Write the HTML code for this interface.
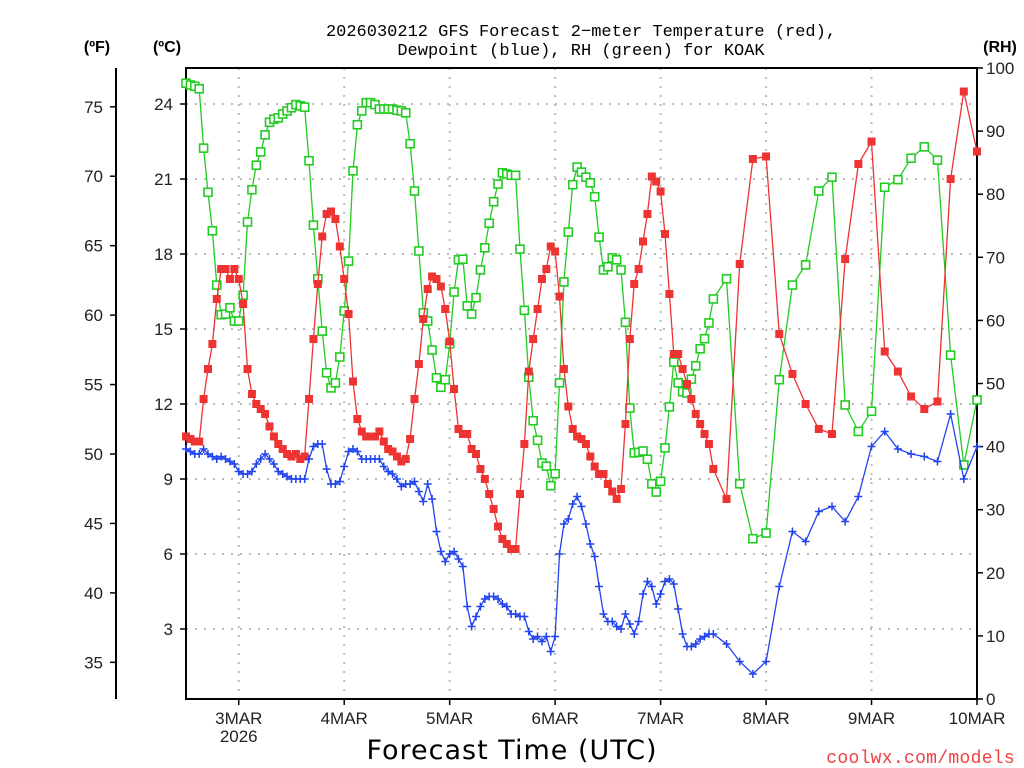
<!DOCTYPE html>
<html><head><meta charset="utf-8"><style>
body{margin:0;background:#fff}
svg{display:block}
text{font-family:"Liberation Sans",sans-serif}
</style></head><body>
<svg id="chart" width="1024" height="768" xmlns="http://www.w3.org/2000/svg">
<g font-family="Liberation Mono, monospace" font-size="17" fill="#000" text-anchor="middle">
<text x="581" y="36" style="font-family:'Liberation Mono',monospace">2026030212 GFS Forecast 2−meter Temperature (red),</text>
<text x="581" y="55" style="font-family:'Liberation Mono',monospace">Dewpoint (blue), RH (green) for KOAK</text>
</g>
<text x="97" y="52" font-size="16" font-weight="bold" text-anchor="middle">(ºF)</text>
<text x="167" y="52" font-size="16" font-weight="bold" text-anchor="middle">(ºC)</text>
<text x="1000" y="52" font-size="16" font-weight="bold" text-anchor="middle">(RH)</text>
<g id="grid"></g><g id="axes"></g><g id="series"></g>
<text x="512" y="759" font-size="27" text-anchor="middle" style="font-family:'DejaVu Sans',sans-serif" letter-spacing="1">Forecast Time (UTC)</text>
<text x="1015" y="763" font-size="18" fill="#f04040" text-anchor="end" style="font-family:'Liberation Mono',monospace" letter-spacing="0.3">coolwx.com/models</text>
</svg>
<script>
const tempHourly=[10.7,10.6,10.5,10.5,12.2,13.4,14.4,16.2,17.4,17.4,
17.0,17.4,17.0,16.0,13.4,12.4,12.0,11.8,11.6,11.1,
10.7,10.4,10.2,10.0,9.9,10.0,9.8,9.9,12.2,14.6,
16.8,18.7,19.6,19.7,19.4,18.3,17.0,15.6,12.9,11.4,
10.9,10.7,10.7,10.7,10.9,10.5,10.2,10.1,9.9,9.7,
9.8,10.6,12.2,13.6,15.4,16.6,17.1,17.0,16.7,15.8,
14.5,12.6,11.0,10.8,10.8,10.2,10.0,9.4,9.0,8.4,
7.8,7.1,6.6,6.4,6.2,6.2,8.4,10.4,13.3,14.6,
15.8,17.0,17.4,18.3,18.1,16.3,13.4,11.9,11.0,10.7,
10.6,10.4,9.9,9.5,9.2,9.2,8.8,8.5,8.2,8.6,
11.2,14.6,16.8,17.4,18.5,19.6,21.1,20.9,20.5,18.8,
16.4,14.0,14.0,13.4,12.8,12.2,11.6,11.2,10.8,10.4,
9.4];
const temp3h=[8.2,17.6,21.8,21.9,14.8,13.2,12.0,11.0,10.8,17.8,21.6,22.5,14.1,13.3,12.3,11.8,12.1,21.0,24.5,22.1];
const dewHourly=[10.2,10.1,10.0,10.0,10.2,10.0,9.9,9.8,9.9,9.8,
9.7,9.6,9.3,9.2,9.2,9.3,9.6,9.8,10.0,9.8,
9.6,9.3,9.2,9.1,9.0,9.0,9.0,9.0,9.8,10.3,
10.4,10.4,9.4,8.8,8.8,8.9,9.5,10.1,10.2,10.1,
9.8,9.8,9.8,9.8,9.8,9.5,9.3,9.2,9.0,8.7,
8.8,8.8,8.9,8.5,8.1,8.8,8.2,6.9,6.1,5.7,
6.0,6.1,5.8,5.5,3.9,3.1,3.5,3.9,4.2,4.3,
4.3,4.2,4.0,3.9,3.6,3.6,3.5,3.5,2.9,2.6,
2.7,2.5,2.7,2.1,2.7,6.0,7.2,7.4,8.0,8.3,
7.9,7.2,6.4,5.9,4.7,3.6,3.3,3.3,3.1,3.0,
3.6,3.2,2.8,3.3,4.4,4.9,4.7,4.0,4.4,4.9,
5.0,4.8,3.8,2.8,2.3,2.3,2.4,2.6,2.7,2.8,
2.8];
const dew3h=[2.4,1.7,1.2,1.7,4.7,6.9,6.5,7.7,7.9,7.3,8.3,10.3,10.9,10.2,10.0,9.9,9.7,11.6,9.0,10.3];
const rhHourly=[97.6,97.3,97.1,96.7,87.3,80.3,74.2,65.6,60.9,61.0,
62.0,59.9,59.9,64.0,75.6,80.7,84.6,86.7,89.4,91.4,
91.9,92.1,92.7,93.2,93.7,94.2,94.0,93.8,85.3,75.1,
66.6,58.3,51.7,49.3,50.1,54.2,61.5,69.4,83.7,91.0,
93.2,94.5,94.5,94.2,93.5,93.5,93.5,93.5,93.3,93.2,
92.9,88.0,80.5,71.0,61.2,59.9,55.3,50.9,49.4,50.6,
56.3,64.5,69.6,69.7,62.3,61.0,63.6,68.0,71.5,75.4,
78.8,81.6,83.4,83.2,83.0,83.0,71.3,61.6,51.0,44.1,
41.0,37.4,36.9,33.8,35.7,50.1,66.1,74.0,81.5,84.3,
83.5,82.7,81.8,79.6,73.2,68.0,68.5,69.9,69.6,68.0,
59.7,46.1,39.0,39.1,39.3,38.0,34.1,32.8,34.5,39.8,
46.3,53.4,50.1,48.7,48.5,50.7,52.8,55.5,57.1,59.6,
63.4];
const rh3h=[66.6,34.1,25.4,26.3,50.6,65.6,68.8,80.5,82.7,46.6,42.4,45.6,81.1,82.3,85.7,87.5,85.4,54.5,37.1,47.4];
const dayLabels=["3MAR","4MAR","5MAR","6MAR","7MAR","8MAR","9MAR","10MAR"];
const dayHours=[12,36,60,84,108,132,156,180];
const cTicks=[3,6,9,12,15,18,21,24];
const fTicks=[35,40,45,50,55,60,65,70,75];
const rhTicks=[0,10,20,30,40,50,60,70,80,90,100];

const NS="http://www.w3.org/2000/svg";
const L=186,R=977,T=68,B=699;
const xS=h=>L+(R-L)*h/180;
const yC=c=>704-25*c;
const yF=f=>yC((f-32)/1.8);
const yRH=r=>B-(B-T)*r/100;
function mk(tag,attrs,parent,txt){const e=document.createElementNS(NS,tag);for(const k in attrs)e.setAttribute(k,attrs[k]);if(txt!==undefined)e.textContent=txt;parent.appendChild(e);return e;}
const grid=document.getElementById('grid'),axes=document.getElementById('axes'),ser=document.getElementById('series');

const hours=[];for(let h=0;h<=120;h++)hours.push(h);for(let h=123;h<=180;h+=3)hours.push(h);
const temp=tempHourly.concat(temp3h),dew=dewHourly.concat(dew3h),rh=rhHourly.concat(rh3h);

cTicks.forEach(c=>{const l=mk('line',{x1:L,x2:R,y1:yC(c),y2:yC(c),stroke:'#bbb','stroke-width':2,'stroke-dasharray':'2 7'},grid);

});
dayHours.forEach((h,i)=>{const l=mk('line',{x1:xS(h),x2:xS(h),y1:T,y2:B,stroke:'#bbb','stroke-width':2,'stroke-dasharray':'2 7'},grid);

});

const frame=mk('rect',{x:L,y:T,width:R-L,height:B-T,fill:'none',stroke:'#000','stroke-width':2},axes);


const fAxis=mk('line',{x1:116,x2:116,y1:T,y2:B,stroke:'#000','stroke-width':2},axes);



cTicks.forEach(c=>{mk('line',{x1:L-6,x2:L,y1:yC(c),y2:yC(c),stroke:'#000','stroke-width':1.5},axes);
const t=mk('text',{x:173,y:yC(c)+6,'font-size':17,'text-anchor':'end',fill:'#222'},axes,String(c));

});
fTicks.forEach(f=>{mk('line',{x1:110,x2:116,y1:yF(f),y2:yF(f),stroke:'#000','stroke-width':1.5},axes);
const t=mk('text',{x:103,y:yF(f)+6,'font-size':17,'text-anchor':'end',fill:'#222'},axes,String(f));

});
rhTicks.forEach(r=>{mk('line',{x1:R,x2:R+6,y1:yRH(r),y2:yRH(r),stroke:'#000','stroke-width':1.5},axes);
const t=mk('text',{x:986,y:yRH(r)+6,'font-size':17,'text-anchor':'start',fill:'#222'},axes,String(r));

});
dayHours.forEach((h,i)=>{mk('line',{x1:xS(h),x2:xS(h),y1:B,y2:B+6,stroke:'#000','stroke-width':1.5},axes);
const t=mk('text',{x:xS(h),y:724,'font-size':17,'text-anchor':'middle',fill:'#222'},axes,dayLabels[i]);

});
const yr=mk('text',{x:xS(12),y:742,'font-size':17,'text-anchor':'middle',fill:'#222'},axes,'2026');



function series(vals,yf,color,kind,name){
 const g=mk('g',{},ser);
 
 
 const pts=vals.map((v,i)=>xS(hours[i]).toFixed(1)+','+yf(v).toFixed(1)).join(' ');
 const pl=mk('polyline',{points:pts,fill:'none',stroke:color,'stroke-width':1.3},g);
 
 
 vals.forEach((v,i)=>{const x=xS(hours[i]),y=yf(v);let m;
  if(kind==='fill'){m=mk('rect',{x:x-4,y:y-4,width:8,height:8,fill:color},g);}
  else if(kind==='open'){m=mk('rect',{x:x-4,y:y-4,width:8,height:8,fill:'#fff',stroke:color,'stroke-width':1.6},g);}
  else{m=mk('path',{d:`M${x-4},${y}H${x+4}M${x},${y-4}V${y+4}`,stroke:color,'stroke-width':1.5},g);}
  
  });
}
series(rh,yRH,'#22cc22','open','rh');
series(temp,yC,'#ee3333','fill','temperature');
series(dew,yC,'#2244ee','plus','dewpoint');
</script>
</body></html>
